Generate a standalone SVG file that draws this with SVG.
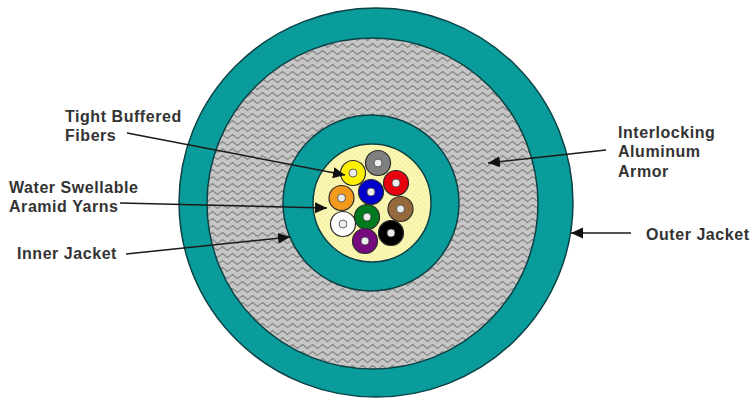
<svg xmlns="http://www.w3.org/2000/svg" width="755" height="398" viewBox="0 0 755 398">
<style>
.lbl{font-family:"Liberation Sans",Arial,sans-serif;font-size:16px;font-weight:700;letter-spacing:.55px;fill:#333}
.ring{stroke:#0c4245;stroke-width:1.5}
.fib{stroke:#2a2a2a;stroke-width:1.2}
.core{fill:#ededed;stroke:#444;stroke-width:.8}
.con{stroke:#1a1a1a;stroke-width:1.5;fill:none;marker-end:url(#arr)}
</style>
<defs>
<marker id="arr" markerUnits="userSpaceOnUse" markerWidth="14" markerHeight="12" refX="12" refY="5.500" orient="auto"><path d="M0 0L12 5.500L0 11Z" fill="#111"/></marker>
<pattern id="wave" width="10" height="7" patternUnits="userSpaceOnUse"><rect width="10" height="7" fill="#c6c6c6"/><path d="M0 3.500L2.500 1.500L5 3.500L7.500 5.500L10 3.500" fill="none" stroke="#858585" stroke-width="1.100"/></pattern>
<pattern id="dots" width="5" height="5" patternUnits="userSpaceOnUse"><rect width="5" height="5" fill="#fbf7b4"/><path d="M0 5L5 0M0 0L5 5" stroke="#f1eb98" stroke-width=".6"/></pattern>
</defs>
<rect width="755" height="398" fill="#fff"/>
<g id="outer-jacket"><ellipse class="ring" cx="376" cy="202.500" rx="197" ry="194.500" fill="#0a9c9a"/></g>
<g id="armor"><circle class="ring" cx="372.500" cy="203.500" r="165.500" fill="url(#wave)"/></g>
<g id="inner-jacket"><circle class="ring" cx="371" cy="203" r="88" fill="#0a9c9a"/></g>
<g id="yarns"><circle class="ring" cx="372" cy="203" r="59" fill="url(#dots)"/></g>
<g id="fiber-yellow"><circle class="fib" cx="353" cy="173" r="12.500" fill="#ffef00"/><circle class="core" cx="353" cy="173" r="4"/></g>
<g id="fiber-gray"><circle class="fib" cx="378" cy="163" r="12.500" fill="#808080"/><circle class="core" cx="378" cy="163" r="4"/></g>
<g id="fiber-red"><circle class="fib" cx="396" cy="183" r="12.500" fill="#e8000f"/><circle class="core" cx="396" cy="183" r="4"/></g>
<g id="fiber-blue"><circle class="fib" cx="371" cy="192" r="12.500" fill="#0000cc"/><circle class="core" cx="371" cy="192" r="4"/></g>
<g id="fiber-orange"><circle class="fib" cx="341.500" cy="198" r="12.500" fill="#f39a1d"/><circle class="core" cx="341.500" cy="198" r="4"/></g>
<g id="fiber-brown"><circle class="fib" cx="400.500" cy="209" r="12.500" fill="#96693c"/><circle class="core" cx="400.500" cy="209" r="4"/></g>
<g id="fiber-green"><circle class="fib" cx="367" cy="217" r="12.500" fill="#007a1e"/><circle class="core" cx="367" cy="217" r="4"/></g>
<g id="fiber-white"><circle class="fib" cx="343" cy="224" r="12.500" fill="#fff"/><circle class="core" cx="343" cy="224" r="4"/></g>
<g id="fiber-black"><circle class="fib" cx="391" cy="233" r="12.500" fill="#000"/><circle class="core" cx="391" cy="233" r="4"/></g>
<g id="fiber-purple"><circle class="fib" cx="365" cy="241" r="12.500" fill="#77097f"/><circle class="core" cx="365" cy="241" r="4"/></g>
<g id="connectors">
<line class="con" x1="127" y1="133" x2="345" y2="175"/>
<line class="con" x1="120" y1="203" x2="327" y2="208"/>
<line class="con" x1="126" y1="254" x2="290" y2="237"/>
<line class="con" x1="606" y1="150" x2="488" y2="163"/>
<line class="con" x1="631" y1="233" x2="571" y2="233"/>
</g>
<g id="label-tight"><text class="lbl" x="65" y="122">Tight Buffered</text><text class="lbl" x="65" y="141">Fibers</text></g>
<g id="label-yarns"><text class="lbl" x="9" y="193">Water Swellable</text><text class="lbl" x="9" y="212">Aramid Yarns</text></g>
<g id="label-inner"><text class="lbl" x="17" y="259">Inner Jacket</text></g>
<g id="label-armor"><text class="lbl" x="618" y="138">Interlocking</text><text class="lbl" x="618" y="157">Aluminum</text><text class="lbl" x="618" y="177">Armor</text></g>
<g id="label-outer"><text class="lbl" x="646" y="240">Outer Jacket</text></g>
</svg>
